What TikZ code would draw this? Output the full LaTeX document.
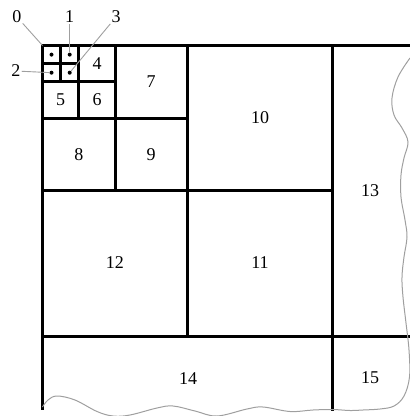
\documentclass[tikz,border=0pt]{standalone}
\usepackage{fontspec}
\setmainfont{Liberation Serif}
\begin{document}
\begin{tikzpicture}[x=1pt,y=-1pt,
  grid/.style={line width=3pt,line cap=rect},
  lead/.style={gray!75,line width=0.9pt},
  wave/.style={gray!75,line width=1pt},
  lbl/.style={font=\fontsize{18}{18}\selectfont,inner sep=1pt},
  dotc/.style={circle,fill=black,inner sep=0pt,minimum size=4pt}]
\useasboundingbox (0,0) rectangle (410,416);
% grid lines
\draw[grid] (42.5,45.5) -- (410,45.5);
\draw[grid] (42.5,45.5) -- (42.5,408);
\draw[grid] (332.5,45.5) -- (332.5,409.5);
\draw[grid] (42.5,336) -- (410,336);
\draw[grid] (187.5,45.5) -- (187.5,336);
\draw[grid] (42.5,190.75) -- (332.5,190.75);
\draw[grid] (115,45.5) -- (115,190.75);
\draw[grid] (42.5,118.1) -- (187.5,118.1);
\draw[grid] (78.75,45.5) -- (78.75,118.1);
\draw[grid] (42.5,81.8) -- (115,81.8);
\draw[grid] (60.6,45.5) -- (60.6,81.8);
\draw[grid] (42.5,63.6) -- (78.75,63.6);
% wavy border
\draw[wave] plot[smooth,tension=0.6] coordinates {(410,58) (398,77) (392,98) (394,115) (402,128) (408,142) (404,158) (401,175) (401,197) (405,220) (407,237) (404,257) (402,277) (403,297) (406,323) (409,350) (409.5,377) (404,396) (394,406) (380,409) (363,410) (350,410.5) (332.5,409.5) (313,410) (290,411.5) (263,407) (247,409) (217,416) (195,411) (173,406) (157,408) (130,415) (113,416) (97,411.5) (75,400) (57,396) (48,400) (42.5,407)};
% dots
\node[dotc] (d0) at (51.5,54.6) {};
\node[dotc] (d1) at (69.7,54.6) {};
\node[dotc] (d2) at (51.5,72.7) {};
\node[dotc] (d3) at (69.7,72.7) {};
\coordinate (corner) at (42.5,45.5);
% outer labels
\node[lbl] (l0) at (17,17) {0};
\node[lbl] (l1) at (69.7,17) {1};
\node[lbl] (l3) at (116,17) {3};
\node[lbl] (l2) at (16,71) {2};
\draw[lead] (l0) -- (corner);
\draw[lead] (l1) -- (d1);
\draw[lead] (l3) -- (d3);
\draw[lead] (l2) -- (d2);
% cell labels
\node[lbl] (n4) at (97,64) {4};
\node[lbl] (n5) at (60.6,100) {5};
\node[lbl] (n6) at (97,100) {6};
\node[lbl] (n7) at (151,82) {7};
\node[lbl] (n8) at (78.75,154.5) {8};
\node[lbl] (n9) at (151,154.5) {9};
\node[lbl] (n10) at (260,118) {10};
\node[lbl] (n11) at (260,263) {11};
\node[lbl] (n12) at (115,263) {12};
\node[lbl] (n13) at (370,191) {13};
\node[lbl] (n14) at (188,379) {14};
\node[lbl] (n15) at (370,378) {15};
\end{tikzpicture}
\end{document}
